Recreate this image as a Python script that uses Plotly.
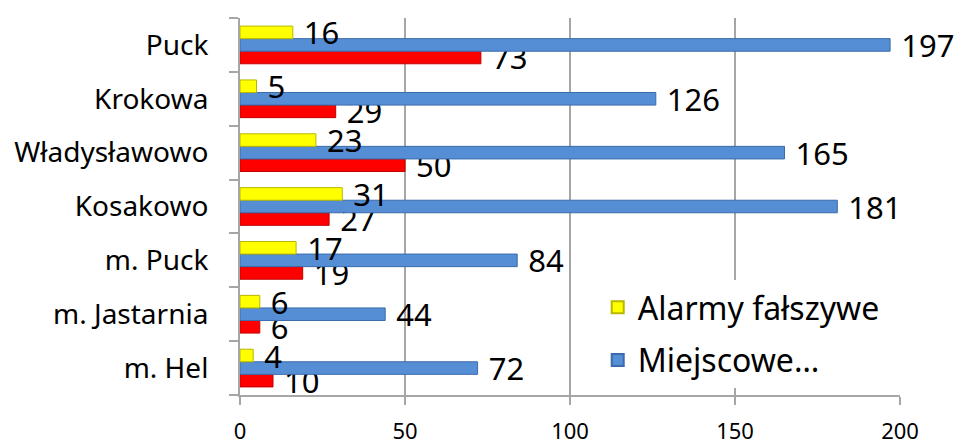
import plotly.graph_objects as go

categories = ["m. Hel", "m. Jastarnia", "m. Puck", "Kosakowo", "Władysławowo", "Krokowa", "Puck"]
alarmy = [4, 6, 17, 31, 23, 5, 16]
miejscowe = [72, 44, 84, 181, 165, 126, 197]
pozary = [10, 6, 19, 27, 50, 29, 73]
x_ticks = [0, 50, 100, 150, 200]

FONT = "Noto Sans"
GRID = "#A6A6A6"

fig = go.Figure()
common = dict(orientation="h", textposition="outside", texttemplate="\u00a0%{x}",
              textfont=dict(size=31, color="black", family=FONT),
              constraintext="none", cliponaxis=False)
fig.add_trace(go.Bar(y=categories, x=pozary, name="Pożary", showlegend=False,
                     legendgroup="c", legendrank=3,
                     marker=dict(color="#FF0000", line=dict(color="#C00000", width=1)), **common))
fig.add_trace(go.Bar(y=categories, x=miejscowe, name="Miejscowe…", legendgroup="b",
                     legendrank=2,
                     marker=dict(color="#558ED5", line=dict(color="#3A6BAA", width=1)), **common))
fig.add_trace(go.Bar(y=categories, x=alarmy, name="Alarmy fałszywe", legendgroup="a",
                     legendrank=1,
                     marker=dict(color="#FFFF00", line=dict(color="#B8B800", width=1)), **common))

fig.update_layout(
    width=966, height=443,
    margin=dict(l=232, r=74, t=10, b=56, autoexpand=False),
    barmode="group", bargap=0.3, bargroupgap=0,
    plot_bgcolor="white", paper_bgcolor="white",
    font=dict(family=FONT, color="black"),
    legend=dict(x=0.542, y=0.305, xanchor="left", yanchor="top",
                traceorder="grouped", tracegroupgap=8, bgcolor="white",
                font=dict(size=32, family=FONT), itemsizing="constant"),
    xaxis=dict(range=[0, 200], tickvals=x_ticks, showgrid=True, gridcolor=GRID,
               gridwidth=2, zeroline=False, ticks="outside", ticklen=8,
               tickcolor=GRID, tickwidth=2, showline=True, linecolor=GRID,
               linewidth=2, tickfont=dict(size=22), ticklabelstandoff=8),
    yaxis=dict(categoryorder="array", categoryarray=categories, tickson="boundaries",
               ticks="outside", ticklen=9, tickcolor=GRID, tickwidth=2,
               showline=True, linecolor=GRID, linewidth=2, showgrid=False,
               tickfont=dict(size=28), ticklabelstandoff=24),
)
fig.write_html("out.html")
